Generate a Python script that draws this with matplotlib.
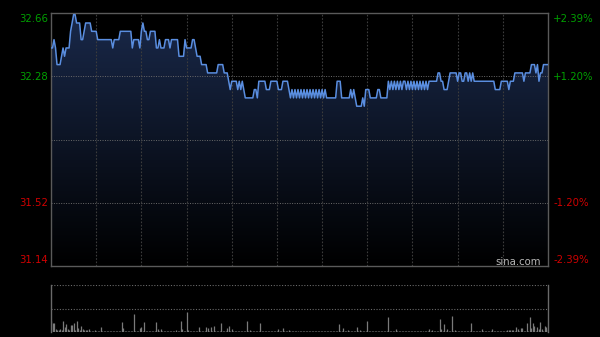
import numpy as np
import matplotlib
matplotlib.use("Agg")
import matplotlib.pyplot as plt
from matplotlib.patches import Polygon

# ---------------- data ----------------
prev_close = 31.90
price_ticks = [32.66, 32.28, 31.90, 31.52, 31.14]
price_labels = ["32.66", "32.28", "", "31.52", "31.14"]
pct_labels = ["+2.39%", "+1.20%", "", "-1.20%", "-2.39%"]

prices = [
    32.45, 32.45, 32.50, 32.45, 32.35, 32.35, 32.35, 32.40, 32.45, 32.40,   # 0
    32.45, 32.45, 32.45, 32.55, 32.60, 32.65, 32.65, 32.60, 32.60, 32.60,   # 10
    32.50, 32.50, 32.55, 32.60, 32.60, 32.60, 32.60, 32.55, 32.55, 32.55,   # 20
    32.55, 32.50, 32.50, 32.50, 32.50, 32.50, 32.50, 32.50, 32.50, 32.50,   # 30
    32.50, 32.45, 32.50, 32.50, 32.50, 32.50, 32.55, 32.55, 32.55, 32.55,   # 40
    32.55, 32.55, 32.55, 32.55, 32.45, 32.50, 32.50, 32.50, 32.50, 32.45,   # 50
    32.55, 32.60, 32.55, 32.55, 32.50, 32.50, 32.55, 32.55, 32.55, 32.55,   # 60
    32.45, 32.45, 32.50, 32.45, 32.45, 32.45, 32.50, 32.50, 32.50, 32.45,   # 70
    32.50, 32.50, 32.50, 32.50, 32.50, 32.40, 32.40, 32.40, 32.40, 32.50,   # 80
    32.45, 32.45, 32.45, 32.45, 32.50, 32.50, 32.45, 32.40, 32.40, 32.40,   # 90
    32.35, 32.35, 32.35, 32.35, 32.30, 32.30, 32.30, 32.30, 32.30, 32.30,   # 100
    32.30, 32.35, 32.35, 32.35, 32.35, 32.30, 32.30, 32.30, 32.25, 32.20,   # 110
    32.25, 32.25, 32.25, 32.25, 32.20, 32.25, 32.20, 32.25, 32.20, 32.15,   # 120
    32.15, 32.15, 32.15, 32.15, 32.15, 32.20, 32.20, 32.15, 32.25, 32.25,   # 130
    32.25, 32.25, 32.25, 32.20, 32.20, 32.20, 32.25, 32.25, 32.25, 32.25,   # 140
    32.25, 32.20, 32.20, 32.20, 32.25, 32.25, 32.25, 32.25, 32.20, 32.15,   # 150
    32.20, 32.15, 32.20, 32.15, 32.20, 32.15, 32.20, 32.15, 32.20, 32.15,   # 160
    32.20, 32.15, 32.20, 32.15, 32.20, 32.15, 32.20, 32.15, 32.20, 32.15,   # 170
    32.20, 32.15, 32.20, 32.15, 32.15, 32.15, 32.15, 32.15, 32.15, 32.15,   # 180
    32.25, 32.25, 32.25, 32.15, 32.15, 32.15, 32.15, 32.15, 32.15, 32.20,   # 190
    32.15, 32.20, 32.15, 32.10, 32.10, 32.10, 32.10, 32.15, 32.10, 32.20,   # 200
    32.20, 32.20, 32.15, 32.15, 32.15, 32.15, 32.15, 32.20, 32.20, 32.15,   # 210
    32.15, 32.15, 32.15, 32.15, 32.25, 32.20, 32.25, 32.20, 32.25, 32.20,   # 220
    32.25, 32.20, 32.25, 32.20, 32.25, 32.25, 32.20, 32.25, 32.20, 32.25,   # 230
    32.20, 32.25, 32.20, 32.25, 32.20, 32.25, 32.20, 32.25, 32.20, 32.25,   # 240
    32.20, 32.25, 32.25, 32.25, 32.25, 32.25, 32.25, 32.30, 32.30, 32.25,   # 250
    32.25, 32.20, 32.20, 32.20, 32.25, 32.30, 32.30, 32.30, 32.30, 32.30,   # 260
    32.25, 32.30, 32.30, 32.25, 32.25, 32.30, 32.30, 32.25, 32.30, 32.25,   # 270
    32.30, 32.25, 32.25, 32.25, 32.25, 32.25, 32.25, 32.25, 32.25, 32.25,   # 280
    32.25, 32.25, 32.25, 32.25, 32.25, 32.20, 32.20, 32.20, 32.20, 32.25,   # 290
    32.25, 32.25, 32.25, 32.25, 32.20, 32.25, 32.25, 32.25, 32.30, 32.30,   # 300
    32.30, 32.30, 32.30, 32.30, 32.25, 32.30, 32.30, 32.30, 32.30, 32.35,   # 310
    32.35, 32.35, 32.30, 32.35, 32.25, 32.30, 32.30, 32.35, 32.35, 32.35,   # 320
    32.35,                                                                   # 330
]

volumes = [
    11, 9, 9, 3, 2, 2, 3, 2, 11, 5,
    8, 3, 2, 7, 7, 9, 2, 11, 4, 2,
    6, 3, 2, 2, 2, 3, 1, 1, 1, 2,
    1, 1, 1, 5, 1, 1, 1, 1, 1, 1,
    1, 1, 1, 1, 1, 1, 1, 10, 4, 1,
    1, 1, 1, 1, 1, 18, 1, 1, 1, 4,
    5, 1, 10, 1, 1, 1, 1, 1, 1, 1,
    10, 3, 1, 3, 1, 1, 1, 1, 1, 1,
    1, 1, 1, 2, 1, 1, 11, 3, 1, 1,
    20, 2, 1, 1, 1, 1, 1, 1, 5, 1,
    1, 1, 1, 5, 4, 1, 5, 1, 6, 1,
    1, 1, 1, 9, 1, 1, 1, 4, 6, 1,
    3, 1, 1, 1, 1, 1, 1, 1, 1, 1,
    11, 1, 2, 1, 1, 1, 1, 1, 1, 9,
    1, 1, 1, 1, 1, 1, 1, 1, 1, 1,
    1, 3, 1, 1, 4, 1, 1, 1, 2, 1,
    1, 1, 1, 1, 1, 1, 1, 1, 1, 1,
    1, 1, 1, 1, 1, 1, 1, 1, 1, 1,
    1, 1, 1, 1, 1, 1, 1, 1, 1, 1,
    1, 8, 1, 1, 4, 1, 1, 2, 1, 1,
    1, 1, 1, 5, 1, 2, 1, 1, 1, 1,
    11, 1, 1, 1, 1, 1, 1, 1, 1, 1,
    1, 1, 1, 1, 15, 1, 1, 1, 1, 3,
    1, 1, 1, 1, 1, 1, 1, 1, 1, 1,
    1, 1, 1, 1, 1, 1, 1, 1, 1, 1,
    1, 3, 1, 2, 1, 1, 1, 1, 13, 3,
    1, 8, 1, 3, 1, 1, 16, 1, 2, 1,
    1, 1, 1, 1, 1, 1, 1, 1, 1, 9,
    1, 1, 1, 1, 1, 1, 3, 1, 1, 1,
    1, 1, 1, 3, 1, 1, 1, 1, 1, 1,
    1, 1, 1, 2, 2, 2, 2, 2, 1, 5,
    3, 1, 4, 4, 1, 1, 9, 1, 15, 4,
    9, 6, 1, 5, 3, 10, 3, 1, 6, 5,
    3,
]

n_minutes = 330
grid_minutes = list(range(30, 330, 30))

# ---------------- figure ----------------
W, H = 600, 337
fig = plt.figure(figsize=(W / 100, H / 100), dpi=100, facecolor="black")

def frac(x0, y0, x1, y1):
    return [x0 / W, 1 - y1 / H, (x1 - x0) / W, (y1 - y0) / H]

ax = fig.add_axes(frac(51, 13, 548, 266))
ax.set_facecolor("black")
x = np.arange(len(prices))
p = np.array(prices)
ax.set_xlim(0, n_minutes)
ax.set_ylim(price_ticks[-1], price_ticks[0])

# gradient fill under the price line
grad = np.linspace(0, 1, 256).reshape(-1, 1)
top_c = np.array([0.10, 0.16, 0.29])
bot_c = np.array([0.0, 0.0, 0.0])
img = top_c * (1 - grad[..., None]) + bot_c * grad[..., None]
img = img.reshape(256, 1, 3)
im = ax.imshow(img, extent=[0, n_minutes, price_ticks[-1], price_ticks[0]],
               aspect="auto", origin="upper", zorder=1)
verts = np.vstack([np.column_stack([x, p]),
                   [[x[-1], price_ticks[-1]], [x[0], price_ticks[-1]]]])
poly = Polygon(verts, closed=True, facecolor="none", edgecolor="none")
ax.add_patch(poly)
im.set_clip_path(poly)

ax.plot(x, p, color="#5a8ee0", lw=1.1, zorder=4)

# grid
for m in grid_minutes:
    ax.axvline(m, color="#3c3c3c", lw=0.8, ls=(0, (1.5, 1.5)), zorder=2)
for v in price_ticks[1:-1]:
    ax.axhline(v, color="#6a6a6a", lw=0.7, ls=(0, (1, 1.5)), zorder=3)

for s in ax.spines.values():
    s.set_color("#5a5a5a")
    s.set_linewidth(1)
ax.set_xticks([])
ax.set_yticks([])

# labels
fs = 7.3
ypos = {0: 19, 1: 77, 3: 203, 4: 260}
for i, y in ypos.items():
    col = "#00a000" if i < 2 else "#d00000"
    fig.text(48 / W, 1 - y / H, price_labels[i], color=col, fontsize=fs,
             ha="right", va="center", family="DejaVu Sans")
    fig.text(553 / W, 1 - y / H, pct_labels[i], color=col, fontsize=fs,
             ha="left", va="center", family="DejaVu Sans")
fig.text(518 / W, 1 - 262 / H, "sina.com", color="#b8b8b8", fontsize=7.3,
         ha="center", va="center", family="DejaVu Sans")

# volume panel
axv = fig.add_axes(frac(51, 285, 548, 332))
axv.set_facecolor("black")
axv.set_xlim(0, n_minutes)
axv.set_ylim(0, 47)
axv.vlines(np.arange(len(volumes)), 0, volumes, color="#7a7a7a", lw=0.9)
axv.axhline(47, color="#6a6a6a", lw=0.8, ls=(0, (1, 1.5)))
axv.axhline(23.5, color="#6a6a6a", lw=0.8, ls=(0, (1, 1.5)))
for k in ["top", "bottom"]:
    axv.spines[k].set_visible(False)
for k in ["left", "right"]:
    axv.spines[k].set_color("#6a6a6a")
    axv.spines[k].set_linewidth(1)
axv.set_xticks([])
axv.set_yticks([])

fig.savefig("out.png", dpi=100, facecolor="black")
